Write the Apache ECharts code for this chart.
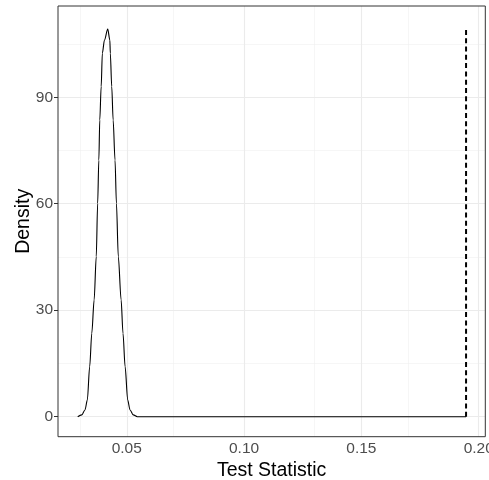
<!DOCTYPE html>
<html>
<head>
<meta charset="utf-8">
<script src="https://cdn.jsdelivr.net/npm/echarts@6/dist/echarts.min.js"></script>
<style>html,body{margin:0;padding:0;background:#fff}#c{width:489px;height:480px}</style>
</head>
<body>
<div id="c"></div>
<script>
// Data
var densityX = [0.0291, 0.0308, 0.0322, 0.0332, 0.0342, 0.0351, 0.0361, 0.0370, 0.0376, 0.0381, 0.0385, 0.0391, 0.0396, 0.0405, 0.0419, 0.0428, 0.0430, 0.0436, 0.0442, 0.0450, 0.0456, 0.0464, 0.0476, 0.0484, 0.0493, 0.0504, 0.0514, 0.0528, 0.0545, 0.1946];
var densityY = [0, 0.5, 1.9, 4.7, 14.1, 23.5, 32.9, 45.1, 60.1, 72.3, 83.6, 93.0, 102.4, 106.1, 109.2, 106.1, 102.4, 93.0, 83.6, 72.3, 60.1, 45.1, 32.9, 23.5, 14.1, 4.7, 1.9, 0.5, 0, 0];
var observedStat = 0.1946;
var observedTop = 109.5;
var xTicks = [0.05, 0.10, 0.15, 0.20];
var xMinor = [0.025, 0.075, 0.125, 0.175];
var yTicks = [0, 30, 60, 90];
var yMinor = [15, 45, 75, 105];
var xLimits = [0.0207, 0.2028];
var yLimits = [-5.64, 115.7];

var FONT = "'Liberation Sans', Arial, sans-serif";
var chart = echarts.init(document.getElementById('c'), null, {renderer: 'canvas'});

function vLines(vals){ return vals.map(function(v){ return {xAxis: v}; }); }
function hLines(vals){ return vals.map(function(v){ return {yAxis: v}; }); }

var option = {
  animation: false,
  backgroundColor: '#ffffff',
  grid: {left: 58, top: 6, right: 3.7, bottom: 43.3, containLabel: false, outerBoundsMode: 'none',
    show: true, borderColor: '#333333', borderWidth: 1, backgroundColor: 'transparent', z: 10},
  xAxis: {
    type: 'value', min: xLimits[0], max: xLimits[1],
    name: 'Test Statistic', nameLocation: 'middle', nameGap: 23.5, nameMoveOverlap: false,
    nameTextStyle: {color: '#000', fontSize: 19.5, fontFamily: FONT},
    axisLine: {show: false},
    splitLine: {show: false},
    axisTick: {show: true, customValues: xTicks, length: 4, lineStyle: {color: '#333333', width: 1}},
    axisLabel: {customValues: xTicks, margin: 4, color: '#4d4d4d', fontSize: 15.5, fontFamily: FONT,
      hideOverlap: false, formatter: function(v){ return v.toFixed(2); }}
  },
  yAxis: {
    type: 'value', min: yLimits[0], max: yLimits[1],
    name: 'Density', nameLocation: 'middle', nameGap: 24, nameMoveOverlap: false,
    nameTextStyle: {color: '#000', fontSize: 19.5, fontFamily: FONT},
    axisLine: {show: false},
    splitLine: {show: false},
    axisTick: {show: true, customValues: yTicks, length: 4, lineStyle: {color: '#333333', width: 1}},
    axisLabel: {customValues: yTicks, margin: 5, color: '#4d4d4d', fontSize: 15.5, fontFamily: FONT,
      formatter: function(v){ return String(v); }}
  },
  series: [
    {
      type: 'line', data: [], silent: true, z: 0,
      markLine: {silent: true, symbol: 'none', label: {show: false}, animation: false,
        lineStyle: {color: '#f0f0f0', width: 0.6, type: 'solid'},
        data: vLines(xMinor).concat(hLines(yMinor))}
    },
    {
      type: 'line', data: [], silent: true, z: 1,
      markLine: {silent: true, symbol: 'none', label: {show: false}, animation: false,
        lineStyle: {color: '#ebebeb', width: 1.1, type: 'solid'},
        data: vLines(xTicks).concat(hLines(yTicks))}
    },
    {
      type: 'line', z: 5, showSymbol: false, smooth: 0.3, smoothMonotone: 'x',
      data: densityX.map(function(x, i){ return [x, densityY[i]]; }),
      lineStyle: {color: '#000000', width: 1.1}
    },
    {
      type: 'line', z: 5, showSymbol: false,
      data: [[observedStat, 0], [observedStat, observedTop]],
      lineStyle: {color: '#000000', width: 2, type: [5, 3.3]}
    }
  ]
};
chart.setOption(option);
</script>
</body>
</html>
